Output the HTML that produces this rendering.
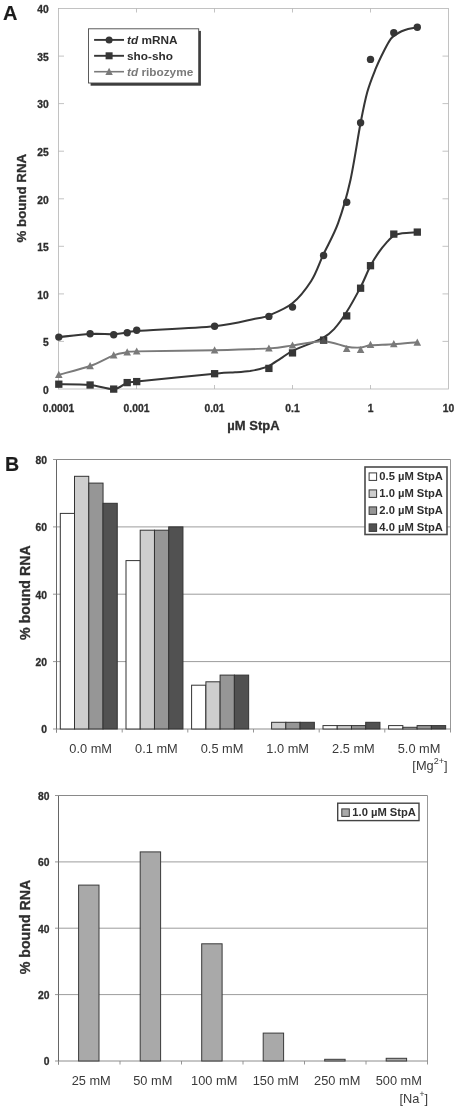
<!DOCTYPE html>
<html lang="en"><head><meta charset="utf-8"><title>StpA RNA binding</title>
<style>
html,body{margin:0;padding:0;background:#fff;}
body{width:463px;height:1115px;overflow:hidden;}
svg{display:block;filter:blur(0.3px);}
text{font-family:"Liberation Sans", Arial, sans-serif;fill:#2e2e2e;}
.tb{font-size:10.3px;font-weight:bold;stroke:#2e2e2e;stroke-width:0.3px;}
.ax13{font-size:13px;font-weight:bold;stroke:#2e2e2e;stroke-width:0.3px;}
.ax14{font-size:14.2px;font-weight:bold;stroke:#2e2e2e;stroke-width:0.3px;}
.lg{font-size:11.2px;font-weight:bold;}
.lg12{font-size:11.8px;font-weight:bold;}
.cat{font-size:12.8px;fill:#3a3a3a;}
.panel{font-size:20px;font-weight:bold;fill:#1c1c1c;stroke:#1c1c1c;stroke-width:0.15px;}
</style></head><body>
<svg width="463" height="1115" viewBox="0 0 463 1115">
<rect width="463" height="1115" fill="#fff"/>
<rect x="58.5" y="8.5" width="390.0" height="380.5" fill="none" stroke="#b4b4b4" stroke-width="0.8"/>
<path d="M136.5,389.0 v-4 M136.5,8.5 v4 M214.5,389.0 v-4 M214.5,8.5 v4 M292.5,389.0 v-4 M292.5,8.5 v4 M370.5,389.0 v-4 M370.5,8.5 v4 M58.5,56.1 h5.5 M448.5,56.1 h-6 M58.5,103.6 h5.5 M448.5,103.6 h-6 M58.5,151.2 h5.5 M448.5,151.2 h-6 M58.5,198.8 h5.5 M448.5,198.8 h-6 M58.5,246.3 h5.5 M448.5,246.3 h-6 M58.5,293.9 h5.5 M448.5,293.9 h-6 M58.5,341.4 h5.5 M448.5,341.4 h-6" stroke="#b4b4b4" stroke-width="0.8" fill="none"/>
<text x="48.7" y="13.2" text-anchor="end" class="tb">40</text>
<text x="48.7" y="60.8" text-anchor="end" class="tb">35</text>
<text x="48.7" y="108.4" text-anchor="end" class="tb">30</text>
<text x="48.7" y="155.9" text-anchor="end" class="tb">25</text>
<text x="48.7" y="203.5" text-anchor="end" class="tb">20</text>
<text x="48.7" y="251.1" text-anchor="end" class="tb">15</text>
<text x="48.7" y="298.6" text-anchor="end" class="tb">10</text>
<text x="48.7" y="346.2" text-anchor="end" class="tb">5</text>
<text x="48.7" y="393.8" text-anchor="end" class="tb">0</text>
<text x="58.5" y="411.6" text-anchor="middle" class="tb">0.0001</text>
<text x="136.5" y="411.6" text-anchor="middle" class="tb">0.001</text>
<text x="214.5" y="411.6" text-anchor="middle" class="tb">0.01</text>
<text x="292.5" y="411.6" text-anchor="middle" class="tb">0.1</text>
<text x="370.5" y="411.6" text-anchor="middle" class="tb">1</text>
<text x="448.5" y="411.6" text-anchor="middle" class="tb">10</text>
<text x="253.5" y="429.7" text-anchor="middle" class="ax13">µM StpA</text>
<text transform="translate(26.0,198.2) rotate(-90)" text-anchor="middle" class="ax13" style="font-size:13.3px">% bound RNA</text>
<text x="3.1" y="19.7" class="panel">A</text>
<path d="M58.8,337.1 C64.0,336.6 80.9,334.5 90.1,334.0 C99.2,333.5 107.5,334.4 113.7,334.2 C119.9,334.0 123.4,333.1 127.2,332.6 C131.0,332.1 122.1,332.1 136.7,331.0 C151.3,329.9 194.9,328.3 214.6,326.3 C234.3,324.3 245.9,320.6 255.0,318.8 C264.1,317.0 262.8,318.0 269.0,315.4 C275.2,312.8 285.4,309.0 292.4,303.3 C299.4,297.6 306.0,289.1 311.2,281.0 C316.4,272.9 318.9,264.1 323.4,254.4 C327.9,244.8 333.7,235.2 338.1,223.1 C342.5,211.0 346.2,198.9 350.0,182.1 C353.8,165.3 357.8,137.3 360.7,122.3 C363.6,107.3 364.8,101.0 367.3,92.0 C369.8,83.0 373.1,75.2 375.9,68.2 C378.7,61.2 381.8,55.1 384.3,50.2 C386.8,45.3 388.8,41.4 390.8,38.8 C392.8,36.2 394.4,35.6 396.2,34.4 C398.0,33.1 399.6,32.2 401.6,31.3 C403.6,30.4 405.5,29.6 408.1,29.0 C410.7,28.4 415.8,27.7 417.4,27.4" fill="none" stroke="#363636" stroke-width="2.05" stroke-linejoin="round"/>
<circle cx="58.8" cy="337.1" r="3.7" fill="#363636"/>
<circle cx="90.1" cy="333.8" r="3.7" fill="#363636"/>
<circle cx="113.7" cy="334.8" r="3.7" fill="#363636"/>
<circle cx="127.2" cy="332.8" r="3.7" fill="#363636"/>
<circle cx="136.7" cy="330.3" r="3.7" fill="#363636"/>
<circle cx="214.6" cy="326.3" r="3.7" fill="#363636"/>
<circle cx="268.9" cy="316.4" r="3.7" fill="#363636"/>
<circle cx="292.5" cy="307.1" r="3.7" fill="#363636"/>
<circle cx="323.6" cy="255.5" r="3.7" fill="#363636"/>
<circle cx="346.7" cy="202.2" r="3.7" fill="#363636"/>
<circle cx="360.6" cy="122.8" r="3.7" fill="#363636"/>
<circle cx="370.5" cy="59.4" r="3.7" fill="#363636"/>
<circle cx="393.8" cy="32.8" r="3.7" fill="#363636"/>
<circle cx="417.3" cy="27.3" r="3.7" fill="#363636"/>
<path d="M58.8,384.2 C64.0,384.3 80.9,384.2 90.1,385.0 C99.2,385.8 107.5,389.5 113.7,389.1 C119.9,388.7 123.4,383.9 127.2,382.6 C131.0,381.4 122.1,383.1 136.7,381.6 C151.3,380.1 198.2,375.2 214.6,373.7 C231.0,372.1 229.1,372.8 235.0,372.3 C240.9,371.8 245.8,371.4 250.0,370.9 C254.2,370.3 256.8,369.8 260.0,369.0 C263.2,368.2 265.5,367.7 269.0,365.9 C272.5,364.1 276.9,360.9 280.9,358.4 C284.9,355.9 285.8,354.2 292.8,350.8 C299.8,347.4 316.0,341.6 323.0,337.8 C330.0,334.0 331.1,332.2 334.9,328.1 C338.7,324.0 341.5,320.1 345.8,313.3 C350.1,306.5 356.5,295.0 360.6,287.1 C364.7,279.2 367.4,271.5 370.5,265.7 C373.6,259.9 376.2,256.0 378.9,252.1 C381.6,248.2 384.2,245.2 386.7,242.4 C389.2,239.7 391.4,237.1 394.0,235.6 C396.6,234.1 398.3,233.8 402.2,233.2 C406.1,232.6 414.9,232.4 417.4,232.2" fill="none" stroke="#363636" stroke-width="2.05" stroke-linejoin="round"/>
<rect x="55.15" y="380.55" width="7.3" height="7.3" fill="#363636"/>
<rect x="86.45" y="381.35" width="7.3" height="7.3" fill="#363636"/>
<rect x="110.05" y="385.45" width="7.3" height="7.3" fill="#363636"/>
<rect x="123.55" y="378.95" width="7.3" height="7.3" fill="#363636"/>
<rect x="133.05" y="377.95" width="7.3" height="7.3" fill="#363636"/>
<rect x="210.95" y="370.05" width="7.3" height="7.3" fill="#363636"/>
<rect x="265.25" y="364.75" width="7.3" height="7.3" fill="#363636"/>
<rect x="288.85" y="349.25" width="7.3" height="7.3" fill="#363636"/>
<rect x="319.95" y="336.55" width="7.3" height="7.3" fill="#363636"/>
<rect x="343.05" y="312.25" width="7.3" height="7.3" fill="#363636"/>
<rect x="356.95" y="284.55" width="7.3" height="7.3" fill="#363636"/>
<rect x="366.85" y="262.05" width="7.3" height="7.3" fill="#363636"/>
<rect x="390.15" y="230.45" width="7.3" height="7.3" fill="#363636"/>
<rect x="413.65" y="228.45" width="7.3" height="7.3" fill="#363636"/>
<path d="M58.8,374.8 C64.0,373.3 80.9,369.2 90.1,366.0 C99.2,362.8 107.5,357.6 113.7,355.3 C119.9,353.0 123.4,353.0 127.2,352.3 C131.0,351.6 122.1,351.8 136.7,351.4 C151.3,351.0 192.5,350.7 214.6,350.2 C236.7,349.7 256.0,349.2 269.0,348.4 C282.0,347.6 283.8,346.6 292.8,345.4 C301.9,344.2 314.3,341.0 323.3,341.2 C332.3,341.4 340.7,345.6 346.9,346.7 C353.1,347.8 356.5,347.7 360.4,347.5 C364.3,347.3 365.0,345.9 370.5,345.3 C376.0,344.8 385.7,344.7 393.5,344.2 C401.3,343.7 413.4,342.5 417.4,342.2" fill="none" stroke="#7a7a7a" stroke-width="1.9" stroke-linejoin="round"/>
<path d="M58.8,370.8 l3.8,7.2 h-7.6 z" fill="#7a7a7a"/>
<path d="M90.1,362.0 l3.8,7.2 h-7.6 z" fill="#7a7a7a"/>
<path d="M113.7,351.3 l3.8,7.2 h-7.6 z" fill="#7a7a7a"/>
<path d="M127.2,348.3 l3.8,7.2 h-7.6 z" fill="#7a7a7a"/>
<path d="M136.7,347.4 l3.8,7.2 h-7.6 z" fill="#7a7a7a"/>
<path d="M214.6,346.2 l3.8,7.2 h-7.6 z" fill="#7a7a7a"/>
<path d="M268.9,344.4 l3.8,7.2 h-7.6 z" fill="#7a7a7a"/>
<path d="M292.5,341.4 l3.8,7.2 h-7.6 z" fill="#7a7a7a"/>
<path d="M323.6,336.6 l3.8,7.2 h-7.6 z" fill="#7a7a7a"/>
<path d="M346.7,344.9 l3.8,7.2 h-7.6 z" fill="#7a7a7a"/>
<path d="M360.6,345.9 l3.8,7.2 h-7.6 z" fill="#7a7a7a"/>
<path d="M370.5,340.8 l3.8,7.2 h-7.6 z" fill="#7a7a7a"/>
<path d="M393.8,340.1 l3.8,7.2 h-7.6 z" fill="#7a7a7a"/>
<path d="M417.3,338.6 l3.8,7.2 h-7.6 z" fill="#7a7a7a"/>
<rect x="320.1" y="336.7" width="7" height="7" fill="#363636" opacity="0.6"/>
<rect x="90.6" y="30.9" width="110.3" height="54.8" fill="#3c3c3c"/>
<rect x="88.5" y="28.8" width="110.2" height="54.2" fill="#fff" stroke="#4a4a4a" stroke-width="0.9"/>
<path d="M94.1,39.9 H124" stroke="#363636" stroke-width="1.9"/><circle cx="109.1" cy="39.9" r="3.5" fill="#363636"/>
<path d="M94.1,55.8 H124" stroke="#363636" stroke-width="1.9"/><rect x="105.6" y="52.3" width="7" height="7" fill="#363636"/>
<path d="M94.1,71.7 H124" stroke="#7a7a7a" stroke-width="1.6"/><path d="M109.1,67.7 l3.7,7.2 h-7.4 z" fill="#7a7a7a"/>
<text x="127.0" y="43.9" class="lg12" fill="#2e2e2e"><tspan font-style="italic">td</tspan> mRNA</text>
<text x="127.0" y="59.8" class="lg12" fill="#2e2e2e">sho-sho</text>
<text x="127.0" y="75.7" class="lg12" style="fill:#7a7a7a"><tspan font-style="italic">td</tspan> ribozyme</text>
<path d="M56.5,661.6 H450.5" stroke="#9c9c9c" stroke-width="1"/>
<path d="M56.5,594.2 H450.5" stroke="#9c9c9c" stroke-width="1"/>
<path d="M56.5,526.9 H450.5" stroke="#9c9c9c" stroke-width="1"/>
<path d="M56.5,459.5 H450.5" stroke="#7c7c7c" stroke-width="0.9"/><path d="M450.5,459.5 V729.0" stroke="#8c8c8c" stroke-width="0.9"/><path d="M56.5,729.0 H450.5" stroke="#808080" stroke-width="0.9"/><path d="M56.5,459.5 V732.5" stroke="#555" stroke-width="0.9"/>
<text x="47" y="733.4" text-anchor="end" class="tb">0</text>
<text x="47" y="666.0" text-anchor="end" class="tb">20</text>
<text x="47" y="598.6" text-anchor="end" class="tb">40</text>
<text x="47" y="531.3" text-anchor="end" class="tb">60</text>
<text x="47" y="463.9" text-anchor="end" class="tb">80</text>
<path d="M56.5,729.0 h-3.5 M56.5,661.6 h-3.5 M56.5,594.2 h-3.5 M56.5,526.9 h-3.5 M56.5,459.5 h-3.5 M56.5,729.0 v3.5 M122.2,729.0 v3.5 M187.8,729.0 v3.5 M253.5,729.0 v3.5 M319.2,729.0 v3.5 M384.8,729.0 v3.5 M450.5,729.0 v3.5" stroke="#8a8a8a" stroke-width="0.9" fill="none"/>
<rect x="60.3" y="513.4" width="14.25" height="215.6" fill="#ffffff" stroke="#333" stroke-width="1"/>
<rect x="74.5" y="476.3" width="14.25" height="252.7" fill="#cecece" stroke="#333" stroke-width="1"/>
<rect x="88.8" y="483.1" width="14.25" height="245.9" fill="#969696" stroke="#333" stroke-width="1"/>
<rect x="103.0" y="503.3" width="14.25" height="225.7" fill="#515151" stroke="#333" stroke-width="1"/>
<rect x="126.0" y="560.6" width="14.25" height="168.4" fill="#ffffff" stroke="#333" stroke-width="1"/>
<rect x="140.2" y="530.2" width="14.25" height="198.8" fill="#cecece" stroke="#333" stroke-width="1"/>
<rect x="154.5" y="530.2" width="14.25" height="198.8" fill="#969696" stroke="#333" stroke-width="1"/>
<rect x="168.7" y="526.9" width="14.25" height="202.1" fill="#515151" stroke="#333" stroke-width="1"/>
<rect x="191.6" y="685.2" width="14.25" height="43.8" fill="#ffffff" stroke="#333" stroke-width="1"/>
<rect x="205.9" y="681.8" width="14.25" height="47.2" fill="#cecece" stroke="#333" stroke-width="1"/>
<rect x="220.1" y="675.1" width="14.25" height="53.9" fill="#969696" stroke="#333" stroke-width="1"/>
<rect x="234.4" y="675.1" width="14.25" height="53.9" fill="#515151" stroke="#333" stroke-width="1"/>
<rect x="271.6" y="722.3" width="14.25" height="6.7" fill="#cecece" stroke="#333" stroke-width="1"/>
<rect x="285.8" y="722.3" width="14.25" height="6.7" fill="#969696" stroke="#333" stroke-width="1"/>
<rect x="300.1" y="722.3" width="14.25" height="6.7" fill="#515151" stroke="#333" stroke-width="1"/>
<rect x="323.0" y="725.6" width="14.25" height="3.4" fill="#ffffff" stroke="#333" stroke-width="1"/>
<rect x="337.2" y="725.6" width="14.25" height="3.4" fill="#cecece" stroke="#333" stroke-width="1"/>
<rect x="351.5" y="725.6" width="14.25" height="3.4" fill="#969696" stroke="#333" stroke-width="1"/>
<rect x="365.7" y="722.3" width="14.25" height="6.7" fill="#515151" stroke="#333" stroke-width="1"/>
<rect x="388.6" y="725.6" width="14.25" height="3.4" fill="#ffffff" stroke="#333" stroke-width="1"/>
<rect x="402.9" y="727.3" width="14.25" height="1.7" fill="#cecece" stroke="#333" stroke-width="1"/>
<rect x="417.1" y="725.6" width="14.25" height="3.4" fill="#969696" stroke="#333" stroke-width="1"/>
<rect x="431.4" y="725.6" width="14.25" height="3.4" fill="#515151" stroke="#333" stroke-width="1"/>
<text x="90.7" y="752.9" text-anchor="middle" class="cat">0.0 mM</text>
<text x="156.4" y="752.9" text-anchor="middle" class="cat">0.1 mM</text>
<text x="222.1" y="752.9" text-anchor="middle" class="cat">0.5 mM</text>
<text x="287.7" y="752.9" text-anchor="middle" class="cat">1.0 mM</text>
<text x="353.4" y="752.9" text-anchor="middle" class="cat">2.5 mM</text>
<text x="419.1" y="752.9" text-anchor="middle" class="cat">5.0 mM</text>
<text x="447.5" y="769.9" text-anchor="end" class="cat">[Mg<tspan dy="-6" font-size="9">2+</tspan><tspan dy="6">]</tspan></text>
<text transform="translate(30.4,592.6) rotate(-90)" text-anchor="middle" class="ax14">% bound RNA</text>
<text x="4.9" y="470.8" class="panel" style="font-size:19.6px">B</text>
<rect x="365" y="467" width="82" height="67.5" fill="#fff" stroke="#4a4a4a" stroke-width="1.6"/>
<rect x="369.1" y="472.9" width="7.5" height="7.5" fill="#ffffff" stroke="#3a3a3a" stroke-width="1"/>
<text x="379.3" y="480.2" class="lg" fill="#2e2e2e">0.5 µM StpA</text>
<rect x="369.1" y="489.9" width="7.5" height="7.5" fill="#cecece" stroke="#3a3a3a" stroke-width="1"/>
<text x="379.3" y="497.2" class="lg" fill="#2e2e2e">1.0 µM StpA</text>
<rect x="369.1" y="506.9" width="7.5" height="7.5" fill="#969696" stroke="#3a3a3a" stroke-width="1"/>
<text x="379.3" y="514.2" class="lg" fill="#2e2e2e">2.0 µM StpA</text>
<rect x="369.1" y="523.9" width="7.5" height="7.5" fill="#515151" stroke="#3a3a3a" stroke-width="1"/>
<text x="379.3" y="531.2" class="lg" fill="#2e2e2e">4.0 µM StpA</text>
<path d="M58.5,994.6 H427.5" stroke="#9c9c9c" stroke-width="1"/>
<path d="M58.5,928.2 H427.5" stroke="#9c9c9c" stroke-width="1"/>
<path d="M58.5,861.9 H427.5" stroke="#9c9c9c" stroke-width="1"/>
<path d="M58.5,795.5 H427.5" stroke="#7c7c7c" stroke-width="0.9"/><path d="M427.5,795.5 V1061.0" stroke="#8c8c8c" stroke-width="0.9"/><path d="M58.5,1061.0 H427.5" stroke="#808080" stroke-width="0.9"/><path d="M58.5,795.5 V1064.5" stroke="#555" stroke-width="0.9"/>
<text x="49.5" y="1065.4" text-anchor="end" class="tb">0</text>
<text x="49.5" y="999.0" text-anchor="end" class="tb">20</text>
<text x="49.5" y="932.6" text-anchor="end" class="tb">40</text>
<text x="49.5" y="866.3" text-anchor="end" class="tb">60</text>
<text x="49.5" y="799.9" text-anchor="end" class="tb">80</text>
<path d="M58.5,1061.0 h-3.5 M58.5,994.6 h-3.5 M58.5,928.2 h-3.5 M58.5,861.9 h-3.5 M58.5,795.5 h-3.5 M58.5,1061.0 v3.5 M120.0,1061.0 v3.5 M181.5,1061.0 v3.5 M243.0,1061.0 v3.5 M304.5,1061.0 v3.5 M366.0,1061.0 v3.5 M427.5,1061.0 v3.5" stroke="#8a8a8a" stroke-width="0.9" fill="none"/>
<rect x="78.6" y="885.1" width="20.4" height="175.9" fill="#a9a9a9" stroke="#3a3a3a" stroke-width="1"/>
<rect x="140.2" y="851.9" width="20.4" height="209.1" fill="#a9a9a9" stroke="#3a3a3a" stroke-width="1"/>
<rect x="201.7" y="943.8" width="20.4" height="117.2" fill="#a9a9a9" stroke="#3a3a3a" stroke-width="1"/>
<rect x="263.2" y="1033.1" width="20.4" height="27.9" fill="#a9a9a9" stroke="#3a3a3a" stroke-width="1"/>
<rect x="324.7" y="1059.3" width="20.4" height="1.7" fill="#a9a9a9" stroke="#3a3a3a" stroke-width="1"/>
<rect x="386.2" y="1058.3" width="20.4" height="2.7" fill="#a9a9a9" stroke="#3a3a3a" stroke-width="1"/>
<text x="91.2" y="1085.3" text-anchor="middle" class="cat">25 mM</text>
<text x="152.8" y="1085.3" text-anchor="middle" class="cat">50 mM</text>
<text x="214.2" y="1085.3" text-anchor="middle" class="cat">100 mM</text>
<text x="275.8" y="1085.3" text-anchor="middle" class="cat">150 mM</text>
<text x="337.2" y="1085.3" text-anchor="middle" class="cat">250 mM</text>
<text x="398.8" y="1085.3" text-anchor="middle" class="cat">500 mM</text>
<text x="428.0" y="1102.6" text-anchor="end" class="cat">[Na<tspan dy="-5.5" font-size="8.5">+</tspan><tspan dy="5.5">]</tspan></text>
<text transform="translate(30.4,927) rotate(-90)" text-anchor="middle" class="ax14">% bound RNA</text>
<rect x="337.7" y="803.2" width="81.3" height="17.4" fill="#fff" stroke="#444" stroke-width="1.4"/>
<rect x="341.8" y="808.9" width="7.5" height="7.5" fill="#a9a9a9" stroke="#3a3a3a" stroke-width="1"/>
<text x="352.3" y="816.4" class="lg" fill="#2e2e2e">1.0 µM StpA</text>
</svg>
</body></html>
